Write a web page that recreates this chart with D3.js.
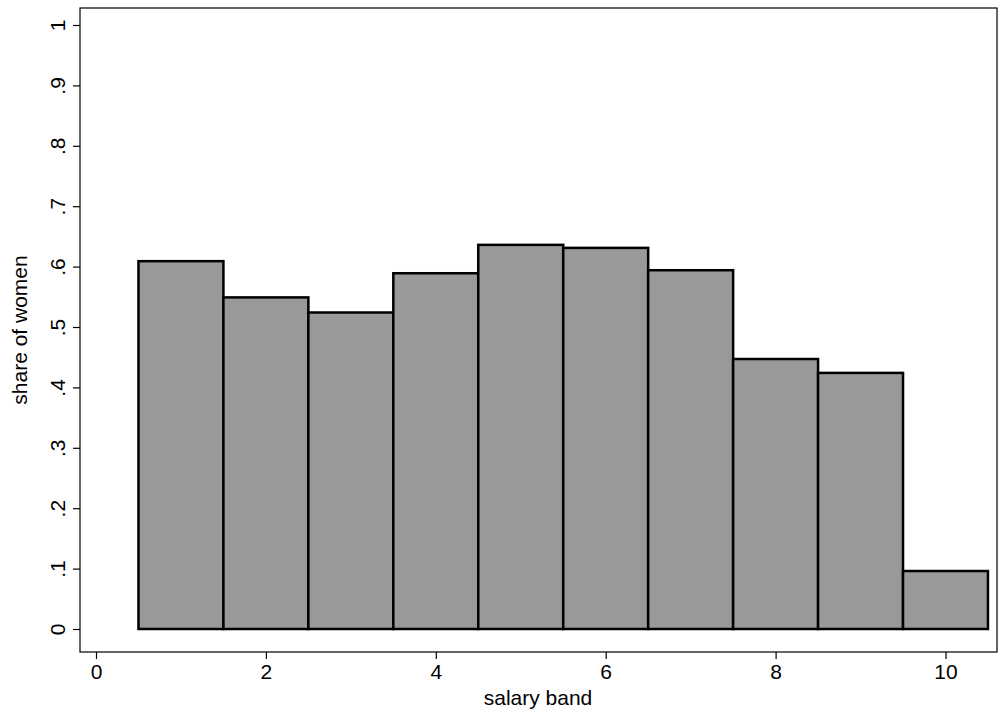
<!DOCTYPE html>
<html>
<head>
<meta charset="utf-8">
<script src="https://cdn.jsdelivr.net/npm/d3@7"></script>
<style>
  body { margin: 0; background: #fff; }
  text { font-family: "Liberation Sans", Arial, sans-serif; }
</style>
</head>
<body>
<div id="chart"></div>
<script>
// salary bands and share of women in each
const bands = [1, 2, 3, 4, 5, 6, 7, 8, 9, 10];
const shares = [0.609, 0.549, 0.524, 0.589, 0.636, 0.631, 0.594, 0.447, 0.424, 0.096];
const xTicks = [0, 2, 4, 6, 8, 10];
const yTicks = [0, 0.1, 0.2, 0.3, 0.4, 0.5, 0.6, 0.7, 0.8, 0.9, 1];
const yLabels = ['0', '.1', '.2', '.3', '.4', '.5', '.6', '.7', '.8', '.9', '1'];

const svgWidth = 998, svgHeight = 720;
const frame = { left: 80, top: 8, right: 997, bottom: 652 };

const svg = d3.select('#chart').append('svg')
    .attr('width', svgWidth)
    .attr('height', svgHeight);

const x = d3.scaleLinear().domain([0, 10]).range([96, 945.5]);
const y = d3.scaleLinear().domain([0, 1]).range([629, 25]);

svg.append('rect')
    .attr('x', frame.left).attr('y', frame.top)
    .attr('width', frame.right - frame.left)
    .attr('height', frame.bottom - frame.top)
    .attr('fill', 'none').attr('stroke', '#000').attr('stroke-width', 1.2);

svg.selectAll('rect.bar')
    .data(bands.map((b, i) => ({ band: b, share: shares[i] })))
    .enter().append('rect')
    .attr('class', 'bar')
    .attr('x', d => x(d.band - 0.5))
    .attr('y', d => y(d.share))
    .attr('width', x(1) - x(0))
    .attr('height', d => y(0) - y(d.share))
    .attr('fill', '#999999')
    .attr('stroke', '#000')
    .attr('stroke-width', 2.5);

// x axis
const xAxis = svg.append('g')
    .attr('transform', `translate(0,${frame.bottom})`)
    .call(d3.axisBottom(x).tickValues(xTicks).tickSize(7).tickPadding(5).tickFormat(d3.format('d')));
xAxis.select('.domain').remove();
xAxis.attr('font-size', 21);
xAxis.selectAll('text').attr('fill', '#000');
xAxis.selectAll('line').attr('stroke-width', 1.2);

// y axis, labels rotated like Stata
const yAxis = svg.append('g')
    .attr('transform', `translate(${frame.left},0)`)
    .call(d3.axisLeft(y).tickValues(yTicks).tickSize(7).tickFormat((d, i) => yLabels[i]));
yAxis.select('.domain').remove();
yAxis.attr('font-size', 21);
yAxis.selectAll('line').attr('stroke-width', 1.2);
yAxis.selectAll('text')
    .attr('fill', '#000')
    .attr('x', 0).attr('dy', 0)
    .attr('text-anchor', 'middle')
    .attr('transform', 'translate(-15,0) rotate(-90)');

svg.append('text')
    .attr('x', 538).attr('y', 705)
    .attr('text-anchor', 'middle').attr('font-size', 21)
    .text('salary band');

svg.append('text')
    .attr('transform', `translate(27,${(frame.top + frame.bottom) / 2}) rotate(-90)`)
    .attr('text-anchor', 'middle').attr('font-size', 21)
    .text('share of women');
</script>
</body>
</html>
